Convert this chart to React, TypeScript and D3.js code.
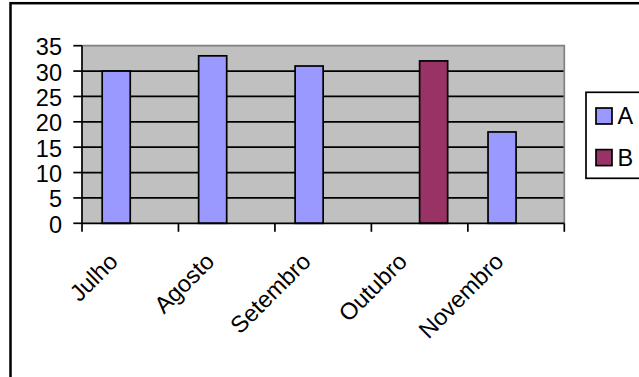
import React from 'react';
import * as d3 from 'd3';

const categories = ['Julho', 'Agosto', 'Setembro', 'Outubro', 'Novembro'];
const seriesNames = ['A', 'B'];
const seriesA: (number | null)[] = [30, 33, 31, null, 18];
const seriesB: (number | null)[] = [null, null, null, 32, null];
const seriesColors = ['#9999FF', '#993366'];
const yTicks = [0, 5, 10, 15, 20, 25, 30, 35];

const FONT = '"Liberation Sans", Arial, sans-serif';

export default function App() {
  const W = 639;
  const H = 377;
  const left = 82;
  const right = 564.3;
  const top = 45.7;
  const bottom = 223.3;
  const SW = 1.7;

  const x = d3.scaleBand<string>().domain(categories).range([left, right]).paddingInner(0).paddingOuter(0);
  const x1 = d3.scaleBand<string>().domain(seriesNames).range([0, x.bandwidth()]).paddingInner(0).paddingOuter(0.72);
  const y = d3.scaleLinear().domain([0, 35]).range([bottom, top]);

  const allSeries = [seriesA, seriesB];
  const boundaries = categories.map((c) => x(c) as number).concat([right]);

  return (
    <svg width={W} height={H} style={{ position: 'absolute', left: 0, top: 0, background: '#fff' }} fontFamily={FONT}>
      {/* outer chart border */}
      <rect x={10.5} y={3.2} width={W + 20} height={H + 20} fill="none" stroke="#000" strokeWidth={2.5} />

      {/* plot area */}
      <rect x={left} y={top} width={right - left} height={bottom - top} fill="#C0C0C0" />
      {/* gridlines */}
      {yTicks.filter((t) => t > 0 && t < 35).map((t) => (
        <line key={'g' + t} x1={left} x2={right} y1={y(t)} y2={y(t)} stroke="#000" strokeWidth={SW} />
      ))}
      {/* plot border top/right grey */}
      <polyline points={`${left},${top} ${right},${top} ${right},${bottom}`} fill="none" stroke="#808080" strokeWidth={SW} />

      {/* bars */}
      {allSeries.map((vals, si) =>
        vals.map((v, ci) =>
          v == null ? null : (
            <rect
              key={`b${si}-${ci}`}
              x={(x(categories[ci]) as number) + (x1(seriesNames[si]) as number)}
              y={y(v)}
              width={x1.bandwidth()}
              height={bottom - y(v)}
              fill={seriesColors[si]}
              stroke="#000"
              strokeWidth={SW}
            />
          )
        )
      )}

      {/* y axis */}
      <line x1={left} x2={left} y1={top} y2={bottom} stroke="#000" strokeWidth={SW} />
      {yTicks.map((t) => (
        <g key={'yt' + t}>
          <line x1={left - 8.7} x2={left} y1={y(t)} y2={y(t)} stroke="#000" strokeWidth={SW} />
          <text x={62} y={y(t) + 9.5} textAnchor="end" fontSize={23.5} fill="#000">
            {t}
          </text>
        </g>
      ))}

      {/* x axis */}
      <line x1={left} x2={right} y1={bottom} y2={bottom} stroke="#000" strokeWidth={SW} />
      {boundaries.map((bx, i) => (
        <line key={'xt' + i} x1={bx} x2={bx} y1={bottom} y2={bottom + 8.5} stroke="#000" strokeWidth={SW} />
      ))}
      {categories.map((c) => {
        const cx = (x(c) as number) + x.bandwidth() / 2 - 11;
        const cy = 263;
        return (
          <text
            key={'xl' + c}
            transform={`translate(${cx},${cy}) rotate(-45)`}
            textAnchor="end"
            fontSize={23.5}
            fill="#000"
          >
            {c}
          </text>
        );
      })}

      {/* legend */}
      <rect x={586} y={92.3} width={80} height={86} fill="#fff" stroke="#000" strokeWidth={SW} />
      {seriesNames.map((s, i) => {
        const ly = 108 + i * 41.6;
        return (
          <g key={'lg' + s}>
            <rect x={596} y={ly} width={16} height={16} fill={seriesColors[i]} stroke="#000" strokeWidth={SW} />
            <text x={617.5} y={ly + 16} fontSize={23.5} fill="#000">
              {s}
            </text>
          </g>
        );
      })}
    </svg>
  );
}
